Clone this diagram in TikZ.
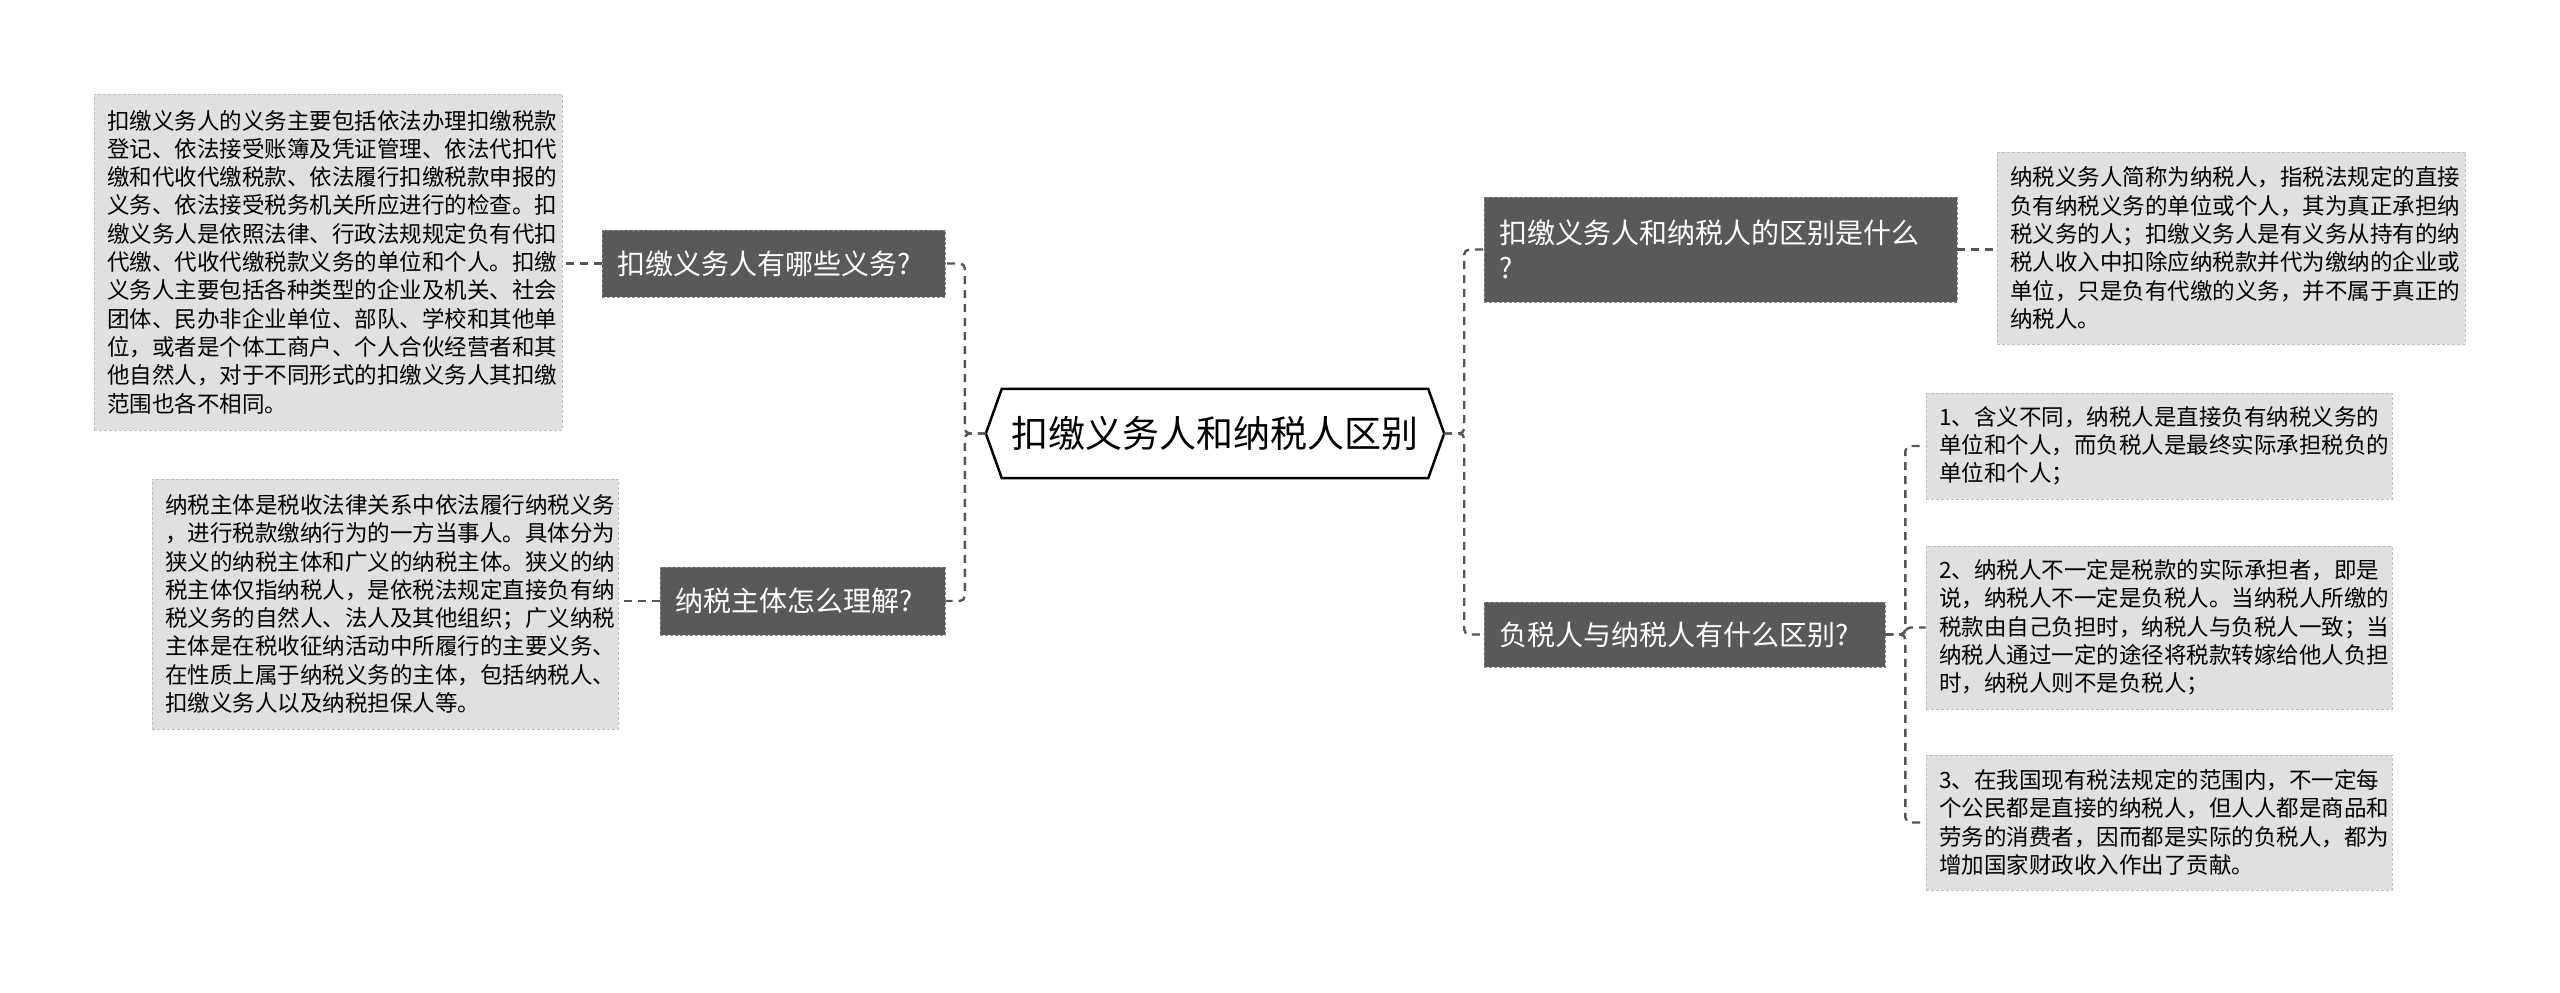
\documentclass[tikz,border=0pt]{standalone}
\usepackage{fontspec}
\setmainfont{Noto Sans CJK SC}
\definecolor{darkbox}{HTML}{595959}
\definecolor{lightbox}{HTML}{E0E0E0}
\definecolor{connc}{HTML}{555555}
\tikzset{
  lbox/.style={fill=lightbox, draw=lightbox!85!black, dash pattern=on 3pt off 2pt, line width=0.8pt,
    inner xsep=13pt, inner ysep=0pt, align=left, text=black,
    font=\fontsize{22.5}{28.3}\selectfont},
  dbox/.style={fill=darkbox, draw=darkbox!70!white, dash pattern=on 3pt off 2pt, line width=0.8pt,
    inner xsep=15pt, inner ysep=0pt, align=left, text=white,
    font=\fontsize{28}{35}\selectfont},
  conn/.style={draw=connc, line width=2.4pt, dash pattern=on 8pt off 6pt, rounded corners=5pt},
}
\begin{document}
\begin{tikzpicture}[x=1pt,y=-1pt]
\useasboundingbox[fill=white] (0,0) rectangle (2560,993);

% central hexagon
\node[minimum width=458pt, minimum height=89pt, inner sep=0pt,
  font=\fontsize{37}{44}\selectfont] (hub) at (1215,433.5) {扣缴义务人和纳税人区别};
\draw[line width=2.5pt, line join=miter, fill=white]
  (hub.west) -- ([xshift=16pt]hub.north west) -- ([xshift=-16pt]hub.north east)
  -- (hub.east) -- ([xshift=-16pt]hub.south east) -- ([xshift=16pt]hub.south west) -- cycle;
\node[font=\fontsize{37}{44}\selectfont] at (hub.center) {扣缴义务人和纳税人区别};

% left branch
\node[dbox, minimum width=343pt, minimum height=67pt, text width=313pt] (d1) at (773.5,263.5) {扣缴义务人有哪些义务?};
\node[dbox, minimum width=285pt, minimum height=68pt, text width=255pt] (d2) at (802.5,601) {纳税主体怎么理解?};

\node[lbox, minimum width=468pt, minimum height=336pt, text width=442pt] (l1) at (328,262) {扣缴义务人的义务主要包括依法办理扣缴税款\\
登记、依法接受账簿及凭证管理、依法代扣代\\
缴和代收代缴税款、依法履行扣缴税款申报的\\
义务、依法接受税务机关所应进行的检查。扣\\
缴义务人是依照法律、行政法规规定负有代扣\\
代缴、代收代缴税款义务的单位和个人。扣缴\\
义务人主要包括各种类型的企业及机关、社会\\
团体、民办非企业单位、部队、学校和其他单\\
位，或者是个体工商户、个人合伙经营者和其\\
他自然人，对于不同形式的扣缴义务人其扣缴\\
范围也各不相同。};

\node[lbox, minimum width=466pt, minimum height=250pt, text width=440pt] (l2) at (385,604) {纳税主体是税收法律关系中依法履行纳税义务\\
，进行税款缴纳行为的一方当事人。具体分为\\
狭义的纳税主体和广义的纳税主体。狭义的纳\\
税主体仅指纳税人，是依税法规定直接负有纳\\
税义务的自然人、法人及其他组织；广义纳税\\
主体是在税收征纳活动中所履行的主要义务、\\
在性质上属于纳税义务的主体，包括纳税人、\\
扣缴义务人以及纳税担保人等。};

% right branch
\node[dbox, minimum width=473pt, minimum height=105pt, text width=443pt] (d3) at (1720.5,249.5) {扣缴义务人和纳税人的区别是什么\\?};
\node[dbox, minimum width=401pt, minimum height=65pt, text width=371pt] (d4) at (1684.5,634.5) {负税人与纳税人有什么区别?};

\node[lbox, minimum width=468pt, minimum height=192pt, text width=442pt] (r1) at (2231,248) {纳税义务人简称为纳税人，指税法规定的直接\\
负有纳税义务的单位或个人，其为真正承担纳\\
税义务的人；扣缴义务人是有义务从持有的纳\\
税人收入中扣除应纳税款并代为缴纳的企业或\\
单位，只是负有代缴的义务，并不属于真正的\\
纳税人。};

\node[lbox, minimum width=466pt, minimum height=106pt, text width=440pt] (ra) at (2159,446) {1、含义不同，纳税人是直接负有纳税义务的\\
单位和个人，而负税人是最终实际承担税负的\\
单位和个人；};

\node[lbox, minimum width=466pt, minimum height=163pt, text width=440pt] (rb) at (2159,627.5) {2、纳税人不一定是税款的实际承担者，即是\\
说，纳税人不一定是负税人。当纳税人所缴的\\
税款由自己负担时，纳税人与负税人一致；当\\
纳税人通过一定的途径将税款转嫁给他人负担\\
时，纳税人则不是负税人；};

\node[lbox, minimum width=466pt, minimum height=135pt, text width=440pt] (rc) at (2159,822.5) {3、在我国现有税法规定的范围内，不一定每\\
个公民都是直接的纳税人，但人人都是商品和\\
劳务的消费者，因而都是实际的负税人，都为\\
增加国家财政收入作出了贡献。};

% connectors
\draw[conn] (hub.west) -- ++(-21,0) |- (d1.east);
\draw[conn] (hub.west) -- ++(-21,0) |- (d2.east);
\draw[conn] (hub.east) -- ++(20,0) |- (d3.west);
\draw[conn] (hub.east) -- ++(20,0) |- (d4.west);
\draw[conn] (d1.west) -- (d1.west -| l1.east);
\draw[conn] (d2.west) -- (d2.west -| l2.east);
\draw[conn] (d3.east) -- (d3.east -| r1.west);
\draw[conn] (d4.east) -- ++(20,0) |- (ra.west);
\draw[conn] (d4.east) -- ++(20,0) |- (rb.west);
\draw[conn] (d4.east) -- ++(20,0) |- (rc.west);
\end{tikzpicture}
\end{document}
